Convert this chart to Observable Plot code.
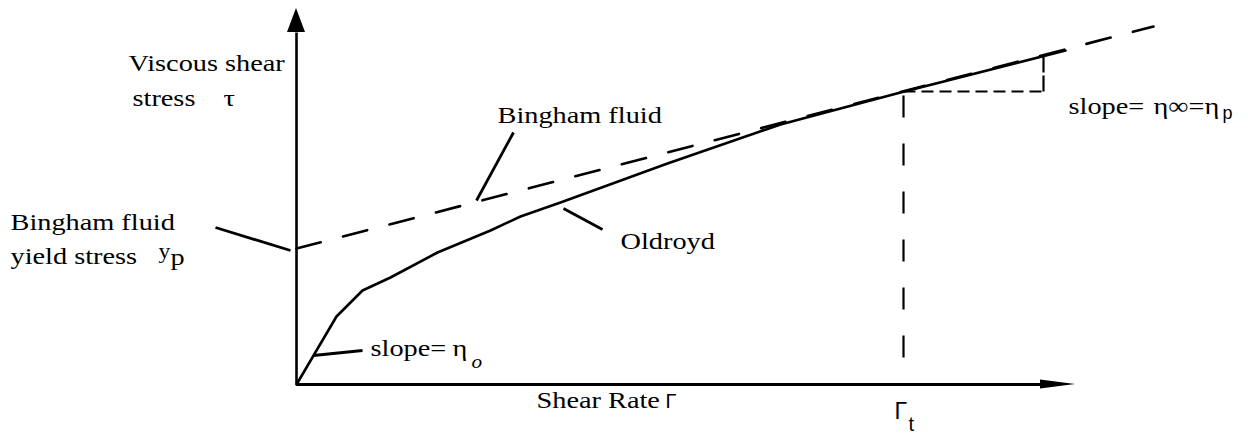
<!DOCTYPE html>
<html><head><meta charset="utf-8">
<script src="https://cdn.jsdelivr.net/npm/d3@7"></script>
<script src="https://cdn.jsdelivr.net/npm/@observablehq/plot@0.6"></script>
<style>
html,body{margin:0;padding:0;background:#fff;}
#chart svg{display:block;}
#chart svg text{font-family:"Liberation Serif","Times New Roman",serif;}
#chart svg g[aria-description="sans"] text{font-family:"Liberation Sans",Arial,sans-serif;}
</style>
</head><body><div id="chart"></div>
<script>
// Schematic (arbitrary units): shear rate on x, viscous shear stress on y
const oldroydRate   = [0, 40, 66, 94, 141, 194, 224, 264, 371, 484, 604, 769];
const oldroydStress = [0, 68, 94, 107, 132, 154, 168, 182, 221, 260, 292, 334];
const binghamRate   = [0, 857];
const binghamStress = [136, 358];
const rateT = 607, stressT = 293;          // Γt and stress at Γt
const rateS = 747, stressS = 328;          // end of the slope triangle
const guideTop = 289, guideBottom = 27;    // extent of the Γt guide
const axisRateEnd = 779, axisStressEnd = 376;

// leader lines [x1, y1, x2, y2]
const leaders = [
  [-81, 157, -6, 134],    // yield stress
  [217, 252, 180, 184],   // Bingham fluid
  [267, 176, 306, 155],   // Oldroyd
  [17, 29, 66, 34]        // slope η0
];

// labels
const serifText = ["Viscous shear", "stress", "τ", "Bingham fluid", "yield stress", "Bingham fluid", "Oldroyd", "slope=", "η", "slope=", "η∞=η", "Shear Rate"];
const serifX    = [-168, -164, -73, -286, -286, 201, 324, 74, 156, 772, 857, 240];
const serifY    = [314, 279, 279, 155, 121, 262, 136, 29, 29, 271, 271, -23];
const smallText = ["y"], smallX = [-138], smallY = [127];
const subText = ["p"], subX = [-126], subY = [120];
const italText = ["o"], italX = [175], italY = [17];
const sansText = ["Γ", "Γ", "t", "p"];
const sansX    = [369, 598, 612, 926];
const sansY    = [-23, -34, -46, 266];
const sansSize = [20, 23, 20, 18];

const oldroyd = oldroydRate.map((x, i) => ({x, y: oldroydStress[i]}));
const bingham = binghamRate.map((x, i) => ({x, y: binghamStress[i]}));
const links = leaders.map(([x1, y1, x2, y2]) => ({x1, y1, x2, y2}));
const toRows = (T, X, Y) => T.map((text, i) => ({text, x: X[i], y: Y[i]}));

const yHead = 24, yHalf = 9, xHead = 35, xHalf = 4.5;
const yArrow = [
  {x: -yHalf, y1: axisStressEnd - yHead, y2: axisStressEnd - yHead},
  {x: 0, y1: axisStressEnd - yHead, y2: axisStressEnd},
  {x: yHalf, y1: axisStressEnd - yHead, y2: axisStressEnd - yHead}
];
const xArrow = [
  {y: -xHalf, x1: axisRateEnd - xHead, x2: axisRateEnd - xHead},
  {y: 0, x1: axisRateEnd - xHead, x2: axisRateEnd},
  {y: xHalf, x1: axisRateEnd - xHead, x2: axisRateEnd - xHead}
];

const serif = "Liberation Serif";
const sans = "Liberation Sans";
const lk = {x1: "x1", y1: "y1", x2: "x2", y2: "y2", stroke: "#000"};
const tx = {x: "x", y: "y", text: "text", textAnchor: "start", lineAnchor: "bottom", fill: "#000"};

const chart = Plot.plot({
  width: 1248, height: 444,
  marginLeft: 0, marginRight: 0, marginTop: 0, marginBottom: 0,
  x: {domain: [0, 780], range: [296, 1076], axis: null},
  y: {domain: [0, 376], range: [384, 8], axis: null},
  style: {background: "#fff"},
  marks: [
    // axes
    Plot.link([{x1: 0, y1: 0, x2: 0, y2: axisStressEnd - yHead}], {...lk, strokeWidth: 2.6}),
    Plot.link([{x1: 0, y1: 0, x2: axisRateEnd - xHead, y2: 0}], {...lk, strokeWidth: 2.8}),
    Plot.areaY(yArrow, {x: "x", y1: "y1", y2: "y2", fill: "#000"}),
    Plot.areaX(xArrow, {y: "y", x1: "x1", x2: "x2", fill: "#000"}),
    // curves
    Plot.line(bingham, {x: "x", y: "y", stroke: "#000", strokeWidth: 2.6, strokeDasharray: "25,23"}),
    Plot.line(oldroyd, {x: "x", y: "y", stroke: "#000", strokeWidth: 2.6, strokeLinejoin: "round"}),
    // guides
    Plot.link([{x1: rateT, y1: guideTop, x2: rateT, y2: guideBottom}], {...lk, strokeWidth: 2.2, strokeDasharray: "22,26"}),
    Plot.link([{x1: rateT, y1: stressT, x2: rateS, y2: stressT}], {...lk, strokeWidth: 2.2, strokeDasharray: "12,6"}),
    Plot.link([{x1: rateS, y1: stressT, x2: rateS, y2: stressS}], {...lk, strokeWidth: 2.2, strokeDasharray: "16,3"}),
    // leaders
    Plot.link(links, {...lk, strokeWidth: 2.8}),
    // text
    Plot.text(toRows(serifText, serifX, serifY), {...tx, fontFamily: serif, fontSize: 24, ariaDescription: "serif"}),
    Plot.text(toRows(smallText, smallX, smallY), {...tx, fontFamily: serif, fontSize: 20, ariaDescription: "serif"}),
    Plot.text(toRows(subText, subX, subY), {...tx, fontFamily: serif, fontSize: 24, ariaDescription: "serif"}),
    Plot.text(toRows(italText, italX, italY), {...tx, fontFamily: serif, fontSize: 18, fontStyle: "italic", ariaDescription: "serif"}),
    Plot.text(sansText.map((text, i) => ({text, x: sansX[i], y: sansY[i], s: sansSize[i]})), {...tx, fontSize: "s", fontFamily: sans, ariaDescription: "sans"})
  ]
});

// the scanned serif lettering is wider than the face: stretch it horizontally
chart.querySelectorAll("text").forEach((t) => {
  const g = t.closest("g[aria-description]");
  if (g && g.getAttribute("aria-description") === "sans") { t.style.fontFamily = "'Liberation Sans', Arial, sans-serif"; return; }
  t.style.fontFamily = "'Liberation Serif', 'Times New Roman', serif";
  const tr = t.getAttribute("transform");
  if (tr && tr.includes("translate")) {
    t.setAttribute("transform", tr + " scale(1.18,1)");
  } else if (t.hasAttribute("x")) {
    const x = +t.getAttribute("x"), y = +(t.getAttribute("y") || 0);
    t.removeAttribute("x"); t.removeAttribute("y");
    t.setAttribute("transform", `translate(${x},${y}) scale(1.18,1)`);
  }
});
document.getElementById("chart").appendChild(chart);
</script>
</body></html>
